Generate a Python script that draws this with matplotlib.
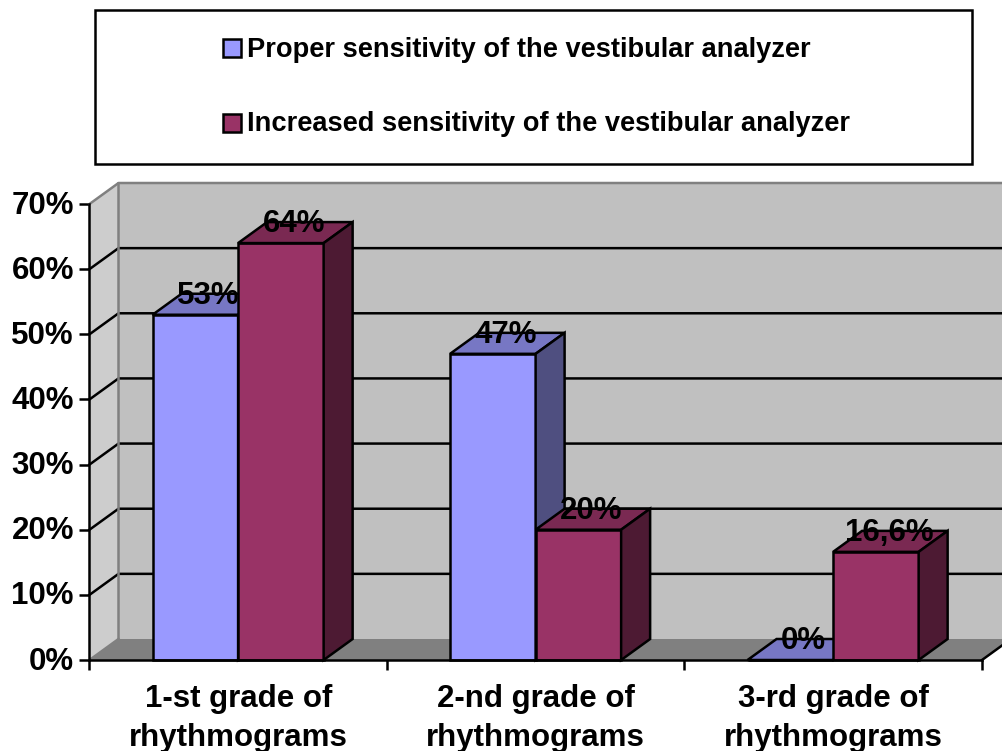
#!/usr/bin/env python3
"""Bar chart with a fake 3D look: sensitivity of the vestibular analyzer by rhythmogram grade."""
import matplotlib
matplotlib.use('Agg')
import matplotlib.pyplot as plt
from matplotlib.patches import Polygon, Rectangle
from matplotlib.transforms import ScaledTranslation

categories = ['1-st grade of\nrhythmograms', '2-nd grade of\nrhythmograms', '3-rd grade of\nrhythmograms']
series_names = ['Proper sensitivity of the vestibular analyzer',
                'Increased sensitivity of the vestibular analyzer']
proper = [53, 47, 0]
increased = [64, 20, 16.6]
proper_labels = ['53%', '47%', '0%']
increased_labels = ['64%', '20%', '16,6%']
y_ticks = [0, 10, 20, 30, 40, 50, 60, 70]

W, H = 1003, 751
LEFT, RIGHT, TOP, BOTTOM = 89.5, 982, 204, 660
XMAX, YMAX = 3, 70
DX = 29 / ((RIGHT - LEFT) / XMAX)      # depth of the box in data units
DY = 21 / ((BOTTOM - TOP) / YMAX)
GAP = 0.212
BAR_W = 0.2875
FS = 22.5
LW = 1.8
LABEL_DROP = 0.3
LABEL_LEFT = 0.005

# face, top, side
BLUE = ('#9999FF', '#7777C4', '#4F4F80')
MAROON = ('#993366', '#7A2952', '#4D1A33')

plt.rcParams['font.family'] = ['Liberation Sans', 'DejaVu Sans']
plt.rcParams['font.weight'] = 'bold'

fig = plt.figure(figsize=(W / 100, H / 100), dpi=100)
ax = fig.add_axes([LEFT / W, (H - BOTTOM) / H, (RIGHT - LEFT) / W, (BOTTOM - TOP) / H])
ax.set_xlim(0, XMAX)
ax.set_ylim(0, YMAX)
ax.patch.set_visible(False)


def poly(points, color, edge='none', lw=0, z=1):
    ax.add_patch(Polygon(points, closed=True, facecolor=color, edgecolor=edge, linewidth=lw,
                         zorder=z, clip_on=False, joinstyle='miter'))


def bar3d(x, v, colors, z):
    x2 = x + BAR_W
    poly([(x, 0), (x2, 0), (x2, v), (x, v)], colors[0], 'black', LW, z)
    poly([(x, v), (x2, v), (x2 + DX, v + DY), (x + DX, v + DY)], colors[1], 'black', LW, z)
    poly([(x2, 0), (x2 + DX, DY), (x2 + DX, v + DY), (x2, v)], colors[2], 'black', LW, z)


# walls and floor
poly([(DX, DY), (XMAX + 2 * DX, DY), (XMAX + 2 * DX, YMAX + DY), (DX, YMAX + DY)], '#C0C0C0', z=1)
poly([(0, 0), (DX, DY), (DX, YMAX + DY), (0, YMAX)], '#CDCDCD', z=1)
poly([(0, 0), (XMAX, 0), (XMAX + DX, DY), (DX, DY)], '#808080', z=1)

for t in y_ticks[1:-1]:
    ax.plot([0, DX, XMAX + 2 * DX], [t, t + DY, t + DY], color='black', lw=LW, zorder=2, clip_on=False)
ax.plot([0, DX, XMAX + 2 * DX], [YMAX, YMAX + DY, YMAX + DY], color='#808080', lw=LW, zorder=2, clip_on=False)
ax.plot([DX, DX], [DY, YMAX + DY], color='#808080', lw=LW, zorder=2, clip_on=False)
ax.plot([0, DX], [0, DY], color='#808080', lw=LW, zorder=2, clip_on=False)
ax.plot([XMAX, XMAX + DX], [0, DY], color='black', lw=LW, zorder=2, clip_on=False)

for i in range(len(categories)):
    x = i + GAP
    bar3d(x, proper[i], BLUE, 3 + i)
    bar3d(x + BAR_W, increased[i], MAROON, 3.5 + i)
    ax.text(x + BAR_W / 2 + DX / 2 - LABEL_LEFT, proper[i] + DY - LABEL_DROP, proper_labels[i],
            ha='center', va='center', fontsize=FS, zorder=10, clip_on=False)
    ax.text(x + 1.5 * BAR_W + DX / 2 - LABEL_LEFT, increased[i] + DY - LABEL_DROP, increased_labels[i],
            ha='center', va='center', fontsize=FS, zorder=10, clip_on=False)

# axes
for side in ['top', 'right']:
    ax.spines[side].set_visible(False)
for side in ['left', 'bottom']:
    ax.spines[side].set_linewidth(LW)
    ax.spines[side].set_zorder(9)
ax.set_yticks(y_ticks)
ax.set_yticklabels([f'{t}%' for t in y_ticks], fontsize=FS, va='center_baseline')
ax.set_xticks(range(XMAX + 1))
ax.set_xticklabels([])
ax.set_xticks([i + 0.5 for i in range(XMAX)], minor=True)
ax.set_xticklabels(categories, minor=True, fontsize=FS, linespacing=1.41)
ax.tick_params(axis='y', length=7, width=LW, pad=4.2)
ax.tick_params(axis='x', which='major', length=7, width=LW)
ax.tick_params(axis='x', which='minor', length=0, pad=17)

# nudge the percent labels up a little, they sat low against the ticks
nudge = ScaledTranslation(0, 2 / 100, fig.dpi_scale_trans)
for label in ax.get_yticklabels():
    label.set_transform(label.get_transform() + nudge)

# legend box, drawn by hand since the entries sit off-centre in a large frame
fig.add_artist(Rectangle((94.5 / W, 1 - 164 / H), 878 / W, 154 / H, transform=fig.transFigure,
                         facecolor='white', edgecolor='black', linewidth=LW))
for name, color, yc, yt in zip(series_names, [BLUE[0], MAROON[0]], [47.5, 122.5], [50, 124]):
    fig.add_artist(Rectangle((223 / W, 1 - (yc + 9) / H), 18 / W, 18 / H, transform=fig.transFigure,
                             facecolor=color, edgecolor='black', linewidth=LW))
    fig.text(247 / W, 1 - yt / H, name, fontsize=19.6, va='center', ha='left')

fig.savefig('out.png', dpi=100)
print('Wrote out.png')
